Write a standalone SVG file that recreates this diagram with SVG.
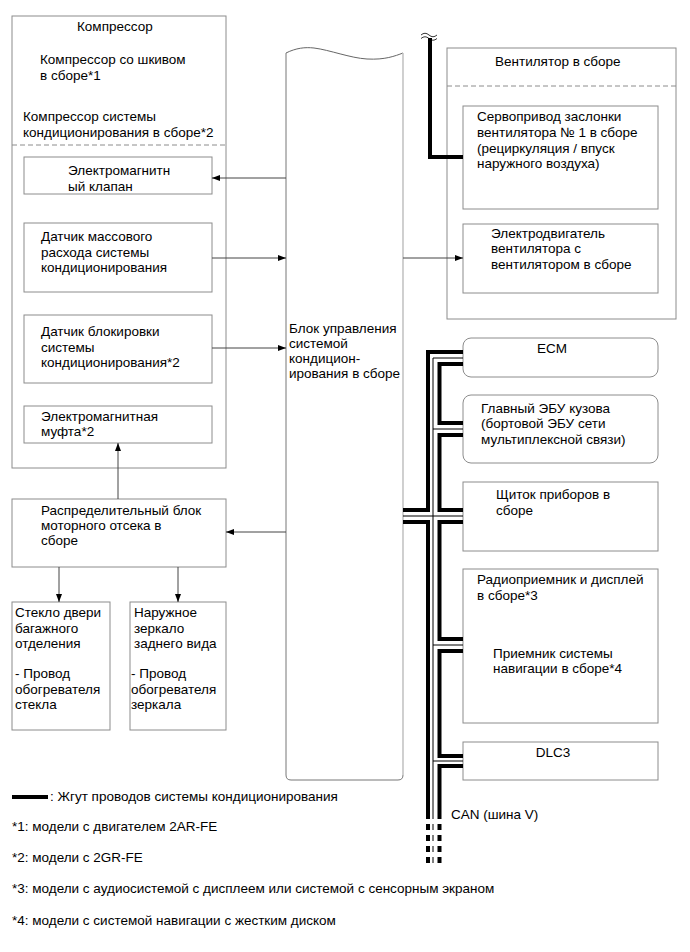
<svg xmlns="http://www.w3.org/2000/svg" width="690" height="952" viewBox="0 0 690 952">
<defs>
<marker id="ah" markerWidth="9" markerHeight="7" refX="8" refY="3.5" orient="auto" markerUnits="userSpaceOnUse">
<path d="M0,0.5 L8,3.5 L0,6.5 z" fill="#000"/>
</marker>
<style>
.box{fill:none;stroke:#8c8c8c;stroke-width:1}
.dash{fill:none;stroke:#8c8c8c;stroke-width:1;stroke-dasharray:5 3}
.t{font-family:"Liberation Sans",Arial,sans-serif;font-size:13.5px;fill:#000}
.ln{fill:none;stroke:#444;stroke-width:1}
.hw{fill:none;stroke:#000;stroke-width:4;stroke-linejoin:miter;stroke-linecap:butt}
.tw{fill:none;stroke:#000;stroke-width:1}
.hwd{fill:none;stroke:#000;stroke-width:4;stroke-dasharray:6 5}
.twd{fill:none;stroke:#000;stroke-width:1;stroke-dasharray:6 5}
</style>
</defs>
<rect width="690" height="952" fill="#fff"/>

<g id="compressor">
<rect class="box" x="12" y="16" width="214" height="452"/>
<text class="t" x="77" y="31">Компрессор</text>
<text class="t" x="40" y="64">Компрессор со шкивом</text>
<text class="t" x="40" y="80">в сборе*1</text>
<text class="t" x="23" y="121">Компрессор системы</text>
<text class="t" x="23" y="137">кондиционирования в сборе*2</text>
<line class="dash" x1="12" y1="145" x2="226" y2="145"/>
</g>
<g id="valve">
<rect class="box" x="24" y="157" width="188" height="37"/>
<text class="t" x="68" y="175">Электромагнитн</text>
<text class="t" x="68" y="191">ый клапан</text>
</g>
<g id="massflow">
<rect class="box" x="24" y="223" width="188" height="69"/>
<text class="t" x="41" y="241">Датчик массового</text>
<text class="t" x="41" y="256.5">расхода системы</text>
<text class="t" x="41" y="272">кондиционирования</text>
</g>
<g id="locksensor">
<rect class="box" x="24" y="315" width="188" height="68"/>
<text class="t" x="41" y="336">Датчик блокировки</text>
<text class="t" x="41" y="352">системы</text>
<text class="t" x="41" y="367">кондиционирования*2</text>
</g>
<g id="clutch">
<rect class="box" x="24" y="406" width="188" height="37"/>
<text class="t" x="41" y="421">Электромагнитная</text>
<text class="t" x="41" y="436">муфта*2</text>
</g>
<g id="distblock">
<rect class="box" x="12" y="499" width="214" height="68"/>
<text class="t" x="41" y="514.5">Распределительный блок</text>
<text class="t" x="41" y="530">моторного отсека в</text>
<text class="t" x="41" y="545">сборе</text>
</g>
<g id="glass">
<rect class="box" x="12" y="602" width="98" height="128"/>
<text class="t" x="15" y="617">Стекло двери</text>
<text class="t" x="15" y="632.5">багажного</text>
<text class="t" x="15" y="648">отделения</text>
<text class="t" x="15" y="678">- Провод</text>
<text class="t" x="15" y="693.5">обогревателя</text>
<text class="t" x="15" y="709">стекла</text>
</g>
<g id="mirror">
<rect class="box" x="130" y="602" width="96" height="128"/>
<text class="t" x="134" y="617">Наружное</text>
<text class="t" x="134" y="632.5">зеркало</text>
<text class="t" x="134" y="648">заднего вида</text>
<text class="t" x="131" y="678">- Провод</text>
<text class="t" x="131" y="693.5">обогревателя</text>
<text class="t" x="131" y="709">зеркала</text>
</g>

<g id="acecu">
<path d="M403,53 C395,56 385,60 367,59 C350,58 330,50 314,48 C305,47 296,48 286,53" fill="none" stroke="#666" stroke-width="1"/>
<path d="M286,53 V775 Q286,780 291,780 H398 Q403,780 403,775" fill="none" stroke="#777" stroke-width="1"/>
<line x1="403" y1="53" x2="403" y2="775" stroke="#c4c4c4" stroke-width="1.6"/>
<text class="t" x="289" y="332.5">Блок управления</text>
<text class="t" x="289" y="347.5">системой</text>
<text class="t" x="289" y="362.5">кондицион-</text>
<text class="t" x="289" y="378">ирования в сборе</text>
</g>

<g id="fan">
<rect class="box" x="447" y="48" width="229" height="271"/>
<text class="t" x="495" y="66">Вентилятор в сборе</text>
<line class="dash" x1="447" y1="86" x2="676" y2="86"/>
</g>
<g id="servo">
<rect class="box" x="463" y="106" width="195" height="103"/>
<text class="t" x="477" y="121">Сервопривод заслонки</text>
<text class="t" x="477" y="137">вентилятора № 1 в сборе</text>
<text class="t" x="477" y="152.5">(рециркуляция / впуск</text>
<text class="t" x="477" y="168">наружного воздуха)</text>
</g>
<g id="motor">
<rect class="box" x="463" y="224" width="195" height="69"/>
<text class="t" x="491" y="237.5">Электродвигатель</text>
<text class="t" x="491" y="253">вентилятора с</text>
<text class="t" x="491" y="268.5">вентилятором в сборе</text>
</g>
<g id="ecm">
<rect class="box" x="463" y="338" width="195" height="39" rx="8"/>
<text class="t" x="552" y="353" text-anchor="middle">ECM</text>
</g>
<g id="mainbody">
<rect class="box" x="463" y="395" width="195" height="68" rx="8"/>
<text class="t" x="481" y="412.5">Главный ЭБУ кузова</text>
<text class="t" x="481" y="428">(бортовой ЭБУ сети</text>
<text class="t" x="481" y="443.5">мультиплексной связи)</text>
</g>
<g id="cluster">
<rect class="box" x="463" y="482" width="195" height="69"/>
<text class="t" x="496" y="499">Щиток приборов в</text>
<text class="t" x="496" y="514.5">сборе</text>
</g>
<g id="radio">
<rect class="box" x="463" y="569" width="195" height="154"/>
<text class="t" x="477" y="584">Радиоприемник и дисплей</text>
<text class="t" x="477" y="599.5">в сборе*3</text>
<text class="t" x="493" y="657.5">Приемник системы</text>
<text class="t" x="493" y="673">навигации в сборе*4</text>
</g>
<g id="dlc3">
<rect class="box" x="463" y="742" width="195" height="38"/>
<text class="t" x="553" y="757" text-anchor="middle">DLC3</text>
</g>

<g id="connectors">
<line class="ln" x1="286" y1="178" x2="212" y2="178" marker-end="url(#ah)"/>
<line class="ln" x1="212" y1="258" x2="286" y2="258" marker-end="url(#ah)"/>
<line class="ln" x1="212" y1="348" x2="286" y2="348" marker-end="url(#ah)"/>
<line class="ln" x1="403" y1="258" x2="463" y2="258" marker-end="url(#ah)"/>
<line class="ln" x1="118" y1="499" x2="118" y2="443" marker-end="url(#ah)"/>
<line class="ln" x1="286" y1="532" x2="226" y2="532" marker-end="url(#ah)"/>
<line class="ln" x1="59" y1="567" x2="59" y2="602" marker-end="url(#ah)"/>
<line class="ln" x1="178" y1="567" x2="178" y2="602" marker-end="url(#ah)"/>
<path d="M421,35 q4,-3.5 8,0 t8,0" fill="none" stroke="#000" stroke-width="0.8"/>
<path d="M421,38.5 q4,-3.5 8,0 t8,0" fill="none" stroke="#000" stroke-width="0.8"/>
<path class="hw" d="M430,38 V157 H463"/>
<path class="hw" d="M463,352 H428 V510 H403"/>
<path class="hw" d="M403,522 H428 V819"/>
<path class="tw" d="M463,358 H433 V819"/>
<line class="tw" x1="433" y1="429" x2="463" y2="429"/>
<line class="tw" x1="403" y1="516" x2="463" y2="516"/>
<line class="tw" x1="433" y1="645" x2="463" y2="645"/>
<line class="tw" x1="433" y1="761" x2="463" y2="761"/>
<path class="hw" d="M463,364 H439.5 V423 H463"/>
<path class="hw" d="M463,435 H439.5 V510 H463"/>
<path class="hw" d="M463,522 H439.5 V639 H463"/>
<path class="hw" d="M463,651 H439.5 V756 H463"/>
<path class="hw" d="M463,766 H439.5 V819"/>
<line class="hwd" x1="428" y1="824" x2="428" y2="866"/>
<line class="twd" x1="433" y1="824" x2="433" y2="866"/>
<line class="hwd" x1="439.5" y1="824" x2="439.5" y2="866"/>
</g>
<text class="t" x="451" y="819">CAN (шина V)</text>

<g id="legend">
<line x1="12" y1="797" x2="48" y2="797" stroke="#000" stroke-width="4"/>
<text class="t" x="50" y="801">: Жгут проводов системы кондиционирования</text>
<text class="t" x="12" y="831">*1: модели с двигателем 2AR-FE</text>
<text class="t" x="12" y="862">*2: модели с 2GR-FE</text>
<text class="t" x="12" y="893">*3: модели с аудиосистемой с дисплеем или системой с сенсорным экраном</text>
<text class="t" x="12" y="925">*4: модели с системой навигации с жестким диском</text>
</g>
</svg>
